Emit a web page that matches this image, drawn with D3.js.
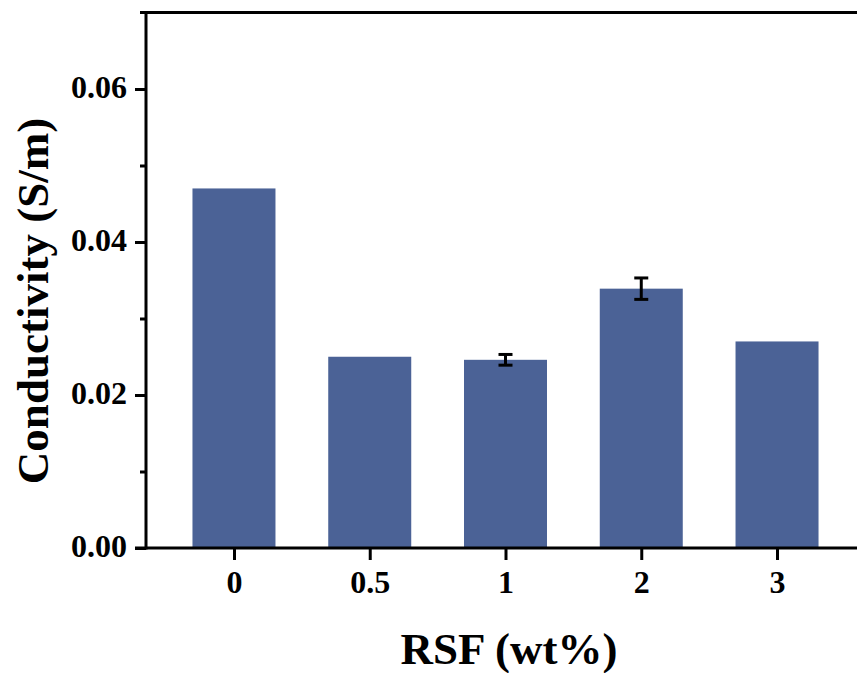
<!DOCTYPE html>
<html>
<head>
<meta charset="utf-8">
<script src="https://cdn.jsdelivr.net/npm/d3@7"></script>
<style>
  html, body { margin: 0; padding: 0; background: #fff; }
  svg { display: block; }
  text { font-family: "Liberation Serif", "Times New Roman", serif; font-weight: bold; fill: #000; }
</style>
</head>
<body>
<div id="chart"></div>
<script>
// Data
const categories = ["0", "0.5", "1", "2", "3"];
const conductivity = [0.0470, 0.0250, 0.0246, 0.0339, 0.0270];
const errors = [0, 0, 0.0007, 0.0014, 0];
const yTicks = [0.00, 0.02, 0.04, 0.06];
const yMinorTicks = [0.01, 0.03, 0.05];
const xTitle = "RSF (wt%)";
const yTitle = "Conductivity (S/m)";

const W = 857, H = 673;
const svg = d3.select("#chart").append("svg").attr("width", W).attr("height", H);

const x = d3.scaleLinear().domain([-0.648, 4.648]).range([146, 865]);
const y = d3.scaleLinear().domain([0, 0.07]).range([548, 12.5]);
const barW = 83;
const color = "#4b6296";

// Bars
svg.append("g").selectAll("rect").data(conductivity).join("rect")
  .attr("x", (d, i) => x(i) - barW / 2)
  .attr("width", barW)
  .attr("y", d => y(d))
  .attr("height", d => y(0) - y(d))
  .attr("fill", color);

// Error bars
const eg = svg.append("g").attr("stroke", "#000").attr("stroke-width", 3);
conductivity.forEach((v, i) => {
  const e = errors[i];
  if (!e) return;
  const cx = x(i);
  eg.append("line").attr("x1", cx).attr("x2", cx).attr("y1", y(v + e)).attr("y2", y(v - e));
  eg.append("line").attr("x1", cx - 7).attr("x2", cx + 7).attr("y1", y(v + e)).attr("y2", y(v + e));
  eg.append("line").attr("x1", cx - 7).attr("x2", cx + 7).attr("y1", y(v - e)).attr("y2", y(v - e));
});

// Axes
const yAxis = d3.axisLeft(y).tickValues(yTicks).tickFormat(d3.format(".2f")).tickSize(11).tickPadding(8);
const gy = svg.append("g").attr("transform", "translate(146,0)").call(yAxis);
gy.select(".domain").remove();
gy.selectAll(".tick line").attr("stroke", "#000").attr("stroke-width", 3);
gy.selectAll(".tick text").style("font-size", "32px").attr("dy", "0.28em");

const yMinor = d3.axisLeft(y).tickValues(yMinorTicks).tickSize(6).tickFormat("");
const gym = svg.append("g").attr("transform", "translate(146,0)").call(yMinor);
gym.select(".domain").remove();
gym.selectAll(".tick line").attr("stroke", "#000").attr("stroke-width", 3);

const xAxis = d3.axisBottom(x).tickValues(d3.range(categories.length)).tickFormat(i => categories[i]).tickSize(12).tickPadding(10);
const gx = svg.append("g").attr("transform", "translate(0,548)").call(xAxis);
gx.select(".domain").remove();
gx.selectAll(".tick line").attr("stroke", "#000").attr("stroke-width", 3);
gx.selectAll(".tick text").style("font-size", "32px").attr("dy", "0.71em");

// Frame lines
const frame = svg.append("g").attr("stroke", "#000").attr("stroke-width", 3).attr("stroke-linecap", "butt");
frame.append("line").attr("x1", 146).attr("x2", 146).attr("y1", y(0.07) - 1.5).attr("y2", 549.5);
frame.append("line").attr("x1", 140).attr("x2", 865).attr("y1", y(0.07)).attr("y2", y(0.07));
frame.append("line").attr("x1", 135).attr("x2", 865).attr("y1", 548).attr("y2", 548);

// Titles
svg.append("text").attr("x", 509).attr("y", 664).attr("text-anchor", "middle")
  .style("font-size", "45px").text(xTitle);
svg.append("text").attr("transform", "translate(48,301) rotate(-90)").attr("text-anchor", "middle")
  .style("font-size", "45px").text(yTitle);
</script>
</body>
</html>
